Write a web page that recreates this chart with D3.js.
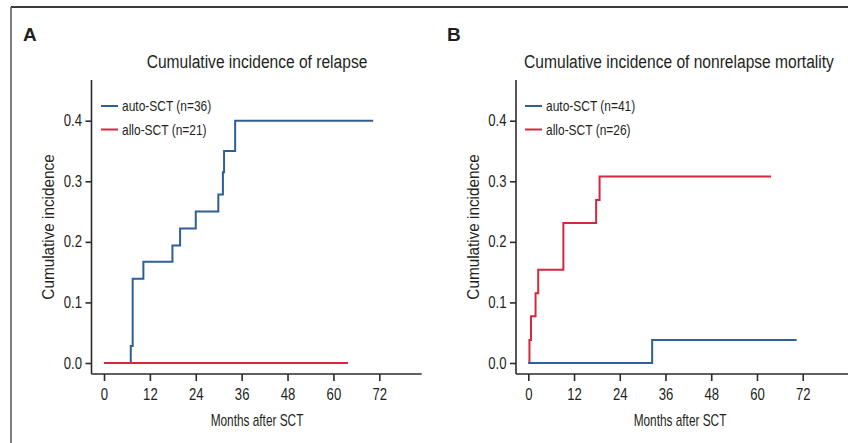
<!DOCTYPE html>
<html>
<head>
<meta charset="utf-8">
<script src="https://cdn.jsdelivr.net/npm/d3@7"></script>
<style>
  html, body { margin: 0; padding: 0; background: #fff; }
  svg { display: block; }
  text { font-family: "Liberation Sans", Arial, sans-serif; fill: #231f20; }
</style>
</head>
<body>
<svg id="chart" width="848" height="443"></svg>
<script>
// Panel A: cumulative incidence of relapse
const relapseAutoMonths = [0, 7.0, 7.5, 10.3, 17.9, 19.9, 24.0, 29.9, 31.1, 31.4, 34.3, 70.4];
const relapseAutoCI     = [0, 0.028, 0.139, 0.167, 0.194, 0.222, 0.25, 0.278, 0.315, 0.35, 0.40, 0.40];
const relapseAlloMonths = [0, 63.8];
const relapseAlloCI     = [0, 0];

// Panel B: cumulative incidence of nonrelapse mortality
const nrmAutoMonths = [0, 32.5, 70.4];
const nrmAutoCI     = [0, 0.038, 0.038];
const nrmAlloMonths = [0, 0.3, 0.7, 1.9, 2.6, 9.2, 17.8, 18.7, 63.7];
const nrmAlloCI     = [0, 0.038, 0.077, 0.115, 0.154, 0.231, 0.269, 0.308, 0.308];

// Axis ticks and labels
const monthTicks = [0, 12, 24, 36, 48, 60, 72];
const ciTicks = [0, 0.1, 0.2, 0.3, 0.4];

const BLUE = "#2f5f97";
const RED = "#d3283f";
const AXIS = "#2b2b2b";
const NARROW = 0.82;   // horizontal squeeze giving a condensed face

const svg = d3.select("#chart");

// condensed text helper: position, optional rotation, then horizontal squeeze
function label(parent, x, y, str, size, anchor = "start", rot = 0, sx = NARROW) {
  return parent.append("text")
    .attr("transform", `translate(${x},${y}) rotate(${rot}) scale(${sx},1)`)
    .attr("text-anchor", anchor)
    .style("font-size", size + "px")
    .text(str);
}

// outer frame (top and left rules)
svg.append("line").attr("x1", 11).attr("x2", 848).attr("y1", 7).attr("y2", 7)
  .attr("stroke", "#3a3a3a").attr("stroke-width", 2);
svg.append("line").attr("x1", 11).attr("x2", 11).attr("y1", 7).attr("y2", 443)
  .attr("stroke", "#555").attr("stroke-width", 1.5);

const panels = [
  {
    letter: "A", letterX: 23, title: "Cumulative incidence of relapse", titleX: 257,
    xRange: [104, 379.3], axisX: 91.5, axisEnd: 421.7, yLabelX: 48, xLabelX: 257,
    legend: { x1: 101, x2: 118, tx: 122 },
    series: [
      { name: "auto-SCT (n=36)", color: BLUE, months: relapseAutoMonths, ci: relapseAutoCI },
      { name: "allo-SCT (n=21)", color: RED, months: relapseAlloMonths, ci: relapseAlloCI }
    ],
    drawOrder: [0, 1]
  },
  {
    letter: "B", letterX: 447, title: "Cumulative incidence of nonrelapse mortality", titleX: 679,
    xRange: [528.3, 802.7], axisX: 516, axisEnd: 848, yLabelX: 473, xLabelX: 680,
    legend: { x1: 525, x2: 542, tx: 546 },
    series: [
      { name: "auto-SCT (n=41)", color: BLUE, months: nrmAutoMonths, ci: nrmAutoCI },
      { name: "allo-SCT (n=26)", color: RED, months: nrmAlloMonths, ci: nrmAlloCI }
    ],
    drawOrder: [1, 0]
  }
];

const yScale = d3.scaleLinear().domain([0, 0.4]).range([363, 120.7]);
const xAxisY = 374;
const yAxisTop = 80;

panels.forEach(p => {
  const x = d3.scaleLinear().domain([0, 72]).range(p.xRange);
  const g = svg.append("g");

  // panel letter and title
  g.append("text").attr("x", p.letterX).attr("y", 41)
    .style("font-weight", "bold").style("font-size", "19px").text(p.letter);
  label(g, p.titleX, 68, p.title, 19, "middle");

  // x axis
  const xAxis = g.append("g").attr("transform", `translate(0,${xAxisY})`)
    .call(d3.axisBottom(x).tickValues(monthTicks).tickSize(7).tickPadding(8).tickSizeOuter(0));
  xAxis.select(".domain").remove();
  xAxis.selectAll(".tick line").attr("stroke", AXIS).attr("stroke-width", 1.6);
  xAxis.selectAll(".tick text").style("font-size", "16px").attr("fill", "#231f20")
    .attr("transform", `scale(${NARROW},1)`);
  g.append("line").attr("x1", p.axisX).attr("x2", p.axisEnd).attr("y1", xAxisY).attr("y2", xAxisY)
    .attr("stroke", AXIS).attr("stroke-width", 1.6);

  // y axis
  const yAxis = g.append("g").attr("transform", `translate(${p.axisX},0)`)
    .call(d3.axisLeft(yScale).tickValues(ciTicks).tickFormat(d3.format(".1f"))
      .tickSize(6).tickPadding(4).tickSizeOuter(0));
  yAxis.select(".domain").remove();
  yAxis.selectAll(".tick line").attr("stroke", AXIS).attr("stroke-width", 1.6);
  yAxis.selectAll(".tick text").style("font-size", "16px").attr("fill", "#231f20")
    .attr("x", null).attr("transform", `translate(-9.5,0) scale(${NARROW},1)`);
  g.append("line").attr("x1", p.axisX).attr("x2", p.axisX).attr("y1", yAxisTop).attr("y2", xAxisY)
    .attr("stroke", AXIS).attr("stroke-width", 1.6);

  // axis titles
  label(g, p.xLabelX, 426, "Months after SCT", 16, "middle", 0, 0.74);
  label(g, p.yLabelX, 227, "Cumulative incidence", 17, "middle", -90, 0.9)
    .attr("dy", "0.35em");

  // step curves
  const line = d3.line()
    .x(d => x(d[0])).y(d => yScale(d[1]))
    .curve(d3.curveStepAfter);
  p.drawOrder.forEach(i => {
    const s = p.series[i];
    g.append("path")
      .datum(s.months.map((m, k) => [m, s.ci[k]]))
      .attr("fill", "none").attr("stroke", s.color).attr("stroke-width", 2)
      .attr("d", line);
  });

  // legend
  p.series.forEach((s, i) => {
    const ly = 106 + i * 23.5;
    g.append("line").attr("x1", p.legend.x1).attr("x2", p.legend.x2).attr("y1", ly).attr("y2", ly)
      .attr("stroke", s.color).attr("stroke-width", 2);
    label(g, p.legend.tx, ly, s.name, 14.6).attr("dy", "0.35em");
  });
});
</script>
</body>
</html>
